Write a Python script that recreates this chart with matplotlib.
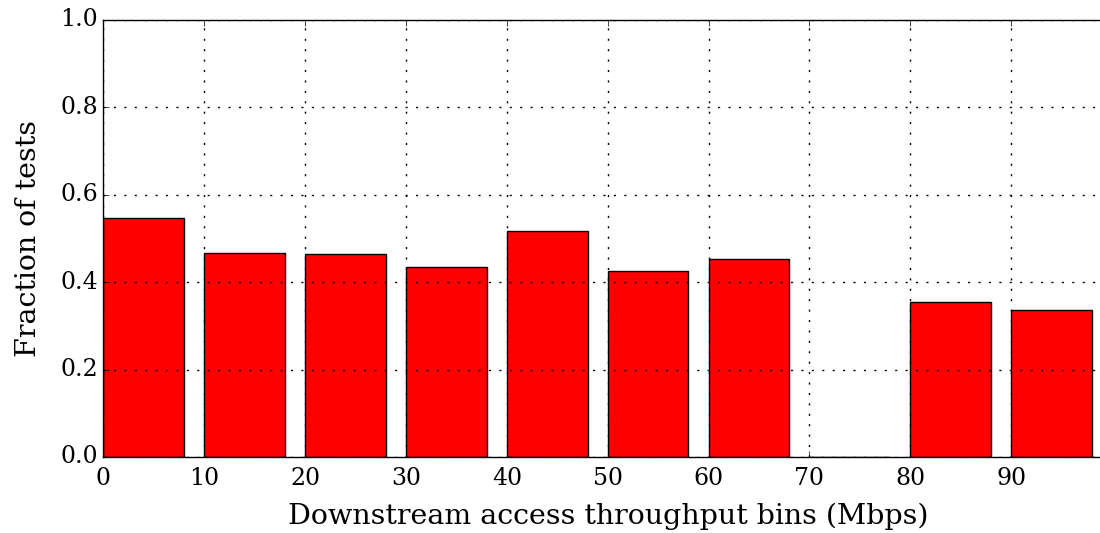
import matplotlib
matplotlib.use("Agg")
import matplotlib.pyplot as plt

plt.style.use("classic")
plt.rcParams["font.family"] = ["DejaVu Serif"]

# Throughput bins (left edges, Mbps) and the fraction of tests in each bin
bin_starts = [0, 10, 20, 30, 40, 50, 60, 70, 80, 90]
fractions = [0.546, 0.466, 0.464, 0.434, 0.518, 0.426, 0.453, 0.0, 0.354, 0.337]
x_ticks = [0, 10, 20, 30, 40, 50, 60, 70, 80, 90]
y_ticks = [0.0, 0.2, 0.4, 0.6, 0.8, 1.0]

fig = plt.figure(figsize=(11, 5.33), dpi=100, facecolor="white")
ax = fig.add_axes([0.094, 0.1426, 0.917, 0.82])

ax.bar(bin_starts, fractions, width=8, align="edge",
       color="red", edgecolor="black", linewidth=1.0)

ax.set_xlim(0, 100)
ax.set_ylim(0, 1.0)
ax.set_xticks(x_ticks)
ax.set_yticks(y_ticks)
ax.grid(True, linestyle=(0, (1.5, 6)), color="black", linewidth=1.0)
ax.set_axisbelow(False)

ax.tick_params(labelsize=17)
ax.tick_params(axis="x", pad=7.5)
ax.set_xlabel("Downstream access throughput bins (Mbps)", fontsize=20.5, labelpad=8.5)
ax.set_ylabel("Fraction of tests", fontsize=20.5, labelpad=13)

fig.savefig("out.png", dpi=100, facecolor="white")
